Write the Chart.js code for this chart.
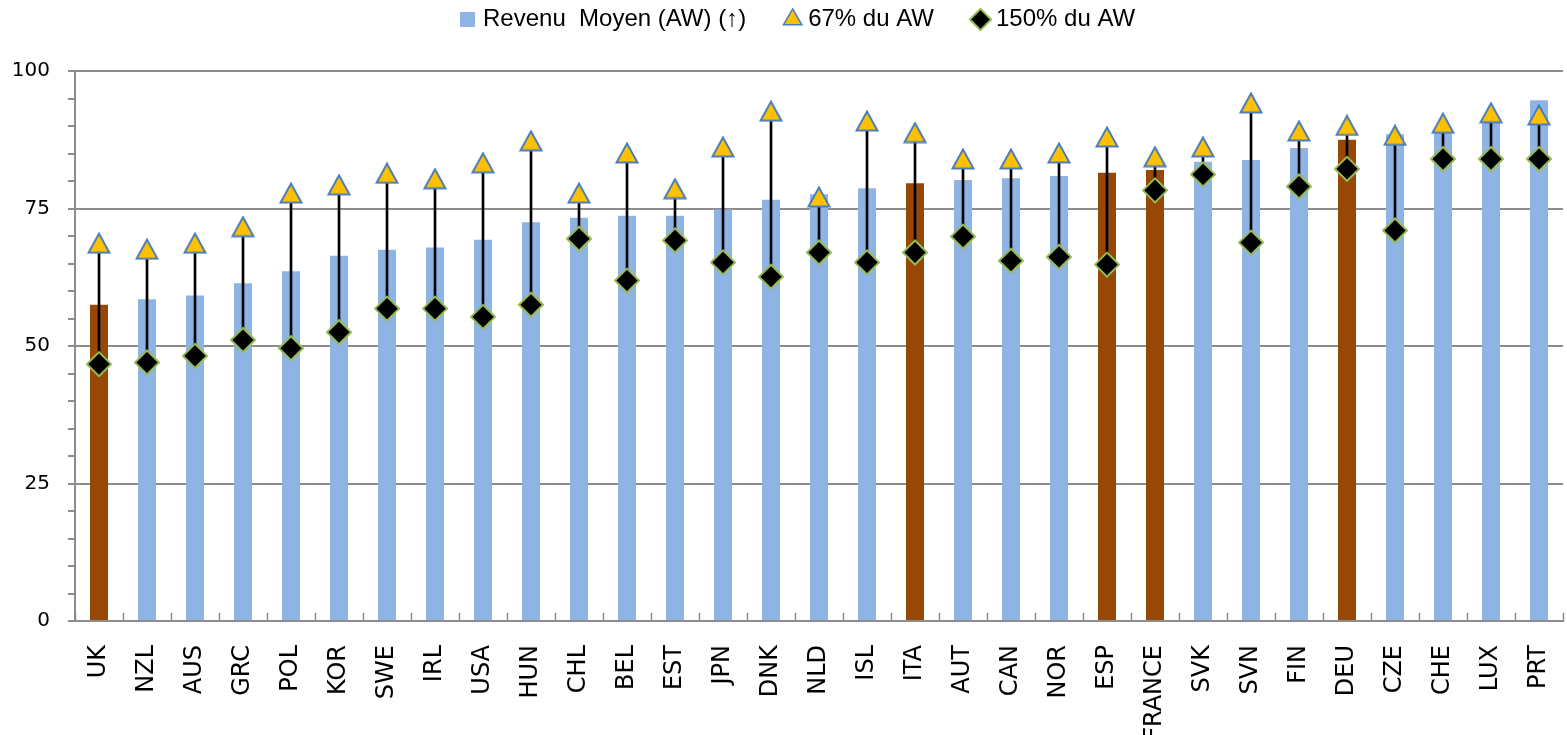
<!DOCTYPE html>
<html>
<head>
<meta charset="utf-8">
<script src="https://cdn.jsdelivr.net/npm/chart.js@4.4.1/dist/chart.umd.min.js"></script>
<style>
  html, body { margin: 0; padding: 0; background: #fff; }
  #zone { width: 1567px; height: 735px; }
</style>
</head>
<body>
<div id="zone"><canvas id="graphique" width="1567" height="735"></canvas></div>
<script>
// Données
const pays = ['UK', 'NZL', 'AUS', 'GRC', 'POL', 'KOR', 'SWE', 'IRL', 'USA', 'HUN', 'CHL', 'BEL', 'EST', 'JPN', 'DNK', 'NLD',
    'ISL', 'ITA', 'AUT', 'CAN', 'NOR', 'ESP', 'FRANCE', 'SVK', 'SVN', 'FIN', 'DEU', 'CZE', 'CHE', 'LUX', 'PRT'];
const revenuMoyen = [57.5, 58.5, 59.2, 61.4, 63.6, 66.4, 67.5, 67.9, 69.3, 72.5, 73.3, 73.7, 73.7, 74.8, 76.6, 77.6,
    78.7, 79.6, 80.2, 80.5, 80.9, 81.5, 82.0, 83.5, 83.8, 86.0, 87.5, 88.5, 89.6, 91.5, 94.7];
const aw67 = [68.7, 67.6, 68.7, 71.7, 77.8, 79.3, 81.4, 80.4, 83.3, 87.3, 77.8, 85.1, 78.6, 86.2, 92.7, 77.1,
    90.9, 88.8, 84.0, 84.0, 85.1, 88.0, 84.4, 86.2, 94.2, 89.1, 90.1, 88.3, 90.5, 92.4, 92.0];
const aw150 = [46.7, 47.0, 48.2, 51.1, 49.6, 52.5, 56.8, 56.8, 55.3, 57.5, 69.5, 61.9, 69.2, 65.2, 62.6, 67.0,
    65.2, 67.0, 69.9, 65.5, 66.2, 64.8, 78.3, 81.2, 68.8, 79.0, 82.2, 71.0, 84.0, 84.0, 84.0];
const paysSurlignes = ['UK', 'ITA', 'ESP', 'FRANCE', 'DEU'];
const ticksY = [0, 25, 50, 75, 100];

// Couleurs
const bleu = '#8EB4E3';
const marron = '#974807';
const gris = '#8C8C8C';
const jaune = '#FFC000';
const bordTriangle = '#4A7EBB';
const vert = '#98B954';

// Triangle centré sur la valeur (comme Excel)
function creerTriangle() {
    const c = document.createElement('canvas');
    c.width = 24;
    c.height = 22;
    const g = c.getContext('2d');
    g.beginPath();
    g.moveTo(12, 1.5);
    g.lineTo(22.5, 20.5);
    g.lineTo(1.5, 20.5);
    g.closePath();
    g.fillStyle = jaune;
    g.fill();
    g.lineWidth = 2;
    g.strokeStyle = bordTriangle;
    g.stroke();
    return c;
}
const triangle = creerTriangle();

// Petits traits de graduation vers l'intérieur sur l'axe des x + position de la légende
const ajustements = {
    id: 'ajustements',
    afterLayout(chart) {
        const leg = chart.legend;
        const pad = leg.options.labels.padding;
        leg.left = 464 - pad;
        leg.top = 19.5 - pad - 12;
    },
    afterDraw(chart) {
        const x = chart.scales.x;
        const bas = chart.chartArea.bottom;
        const ctx = chart.ctx;
        ctx.save();
        ctx.strokeStyle = gris;
        ctx.lineWidth = 1.5;
        ctx.beginPath();
        for (let i = 0; i <= pays.length; i++) {
            const px = Math.round(x.getPixelForValue(i - 0.5)) + 0.5;
            ctx.moveTo(px, bas);
            ctx.lineTo(px, bas - 8);
        }
        ctx.stroke();
        ctx.restore();
    }
};

const ctx = document.getElementById('graphique').getContext('2d');
const graphique = new Chart(ctx, {
    type: 'bar',
    data: {
        labels: pays,
        datasets: [
            {
                label: 'Revenu  Moyen (AW) (\u2191)',
                data: revenuMoyen,
                backgroundColor: pays.map(p => paysSurlignes.includes(p) ? marron : bleu),
                pointStyle: 'rect',
                grouped: false,
                categoryPercentage: 1,
                barPercentage: 0.375,
                order: 3
            },
            {
                label: 'ecart',
                data: pays.map((p, i) => [aw150[i], aw67[i]]),
                backgroundColor: '#000',
                barThickness: 2,
                grouped: false,
                order: 2
            },
            {
                type: 'line',
                label: '67% du AW',
                data: aw67,
                showLine: false,
                pointStyle: triangle,
                backgroundColor: jaune,
                borderColor: bordTriangle,
                borderWidth: 1.5,
                order: 1
            },
            {
                type: 'line',
                label: '150% du AW',
                data: aw150,
                showLine: false,
                pointStyle: 'rectRot',
                pointRadius: 12,
                pointHoverRadius: 12,
                backgroundColor: '#000',
                borderColor: vert,
                borderWidth: 1.5,
                pointBorderWidth: 2,
                order: 0
            }
        ]
    },
    options: {
        responsive: false,
        animation: false,
        layout: { autoPadding: false, padding: { top: -6, right: 4, left: 0, bottom: 0 } },
        plugins: {
            tooltip: { enabled: false },
            legend: {
                position: 'top',
                align: 'start',
                labels: {
                    usePointStyle: true,
                    boxHeight: 15,
                    boxWidth: 7,
                    padding: 43,
                    color: '#000',
                    font: { family: '"Liberation Sans", sans-serif', size: 24 },
                    generateLabels(chart) {
                        const items = Chart.defaults.plugins.legend.labels.generateLabels(chart);
                        items.forEach(it => {
                            if (it.datasetIndex === 0) {
                                it.fillStyle = bleu;
                                it.strokeStyle = bleu;
                            }
                            if (it.datasetIndex === 2) it.pointStyle = 'triangle';
                        });
                        return items.filter(it => it.datasetIndex !== 1)
                            .sort((a, b) => a.datasetIndex - b.datasetIndex);
                    }
                }
            }
        },
        scales: {
            x: {
                grid: { display: false },
                border: { color: gris, width: 2 },
                ticks: {
                    color: '#000',
                    minRotation: 90,
                    maxRotation: 90,
                    autoSkip: false,
                    padding: 16,
                    font: { family: '"DejaVu Sans", sans-serif', size: 24 }
                },
                afterFit(scale) {
                    scale.height = 114;
                    scale.paddingLeft = 0;
                    scale.paddingRight = 0;
                }
            },
            y: {
                min: 0,
                max: 100,
                border: { color: gris, width: 2 },
                grid: {
                    color: c => ticksY.includes(c.tick.value) ? gris : 'rgba(0,0,0,0)',
                    tickColor: gris,
                    lineWidth: 2,
                    tickLength: 7
                },
                ticks: {
                    stepSize: 5,
                    color: '#000',
                    padding: 18,
                    font: { family: '"DejaVu Sans", sans-serif', size: 20 },
                    callback: v => ticksY.includes(v) ? v : ''
                },
                afterFit(scale) { scale.width = 75; }
            }
        }
    },
    plugins: [ajustements]
});
</script>
</body>
</html>
